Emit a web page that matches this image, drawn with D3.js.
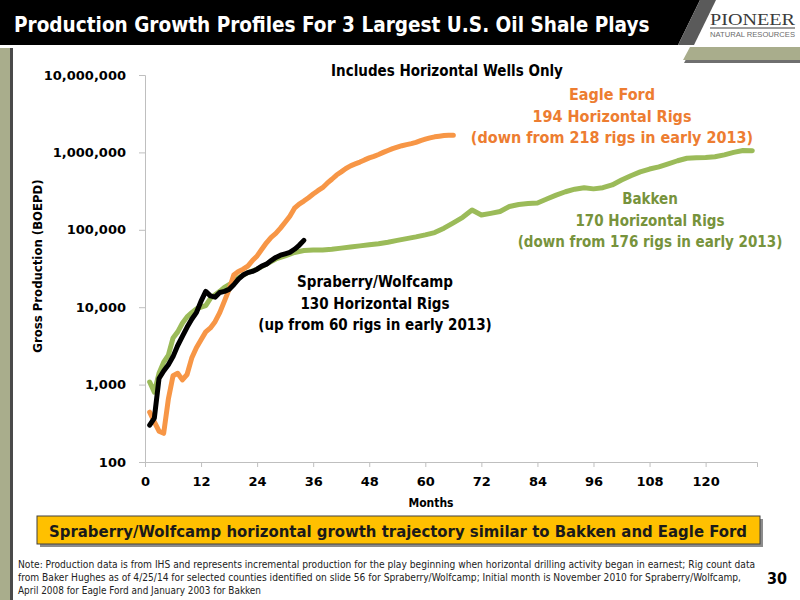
<!DOCTYPE html>
<html>
<head>
<meta charset="utf-8">
<script src="https://cdn.jsdelivr.net/npm/d3@7"></script>
<style>
  body { margin: 0; background: #fff; }
  svg { display: block; }
  .tick text { font-family: "DejaVu Sans", sans-serif; font-weight: bold; font-size: 13px; fill: #000; }
</style>
</head>
<body>
<div id="chart"></div>
<script>
// months and gross production (BOEPD)
var eagleMonths = [1,2,3,4,5,6,7,8,9,10,11,12,13,14,15,16,17,18,19,20,21,22,23,24,25,26,27,28,29,30,31,32,33,34,35,36,37,38,39,40,41,42,43,44,45,46,47,48,49,50,51,52,53,54,55,56,57,58,59,60,61,62,63,64,65,66];
var eagleValues = [440,330,250,235,650,1300,1400,1150,1350,2200,3000,3800,4800,5400,6500,8500,12000,17000,26000,29000,31000,34000,40000,46000,56000,68000,80000,90000,105000,125000,150000,190000,215000,235000,260000,290000,320000,350000,400000,450000,510000,560000,620000,670000,710000,750000,800000,850000,890000,940000,1000000,1060000,1120000,1170000,1220000,1260000,1300000,1350000,1420000,1480000,1540000,1590000,1620000,1650000,1660000,1660000];

var bakkenMonths = [1,2,3,4,5,6,7,8,9,10,11,12,13,14,15,16,17,18,20,22,24,26,28,30,32,34,36,38,40,42,44,46,48,50,52,54,56,58,60,62,64,66,68,70,72,74,76,78,80,82,84,86,88,90,92,94,96,98,100,102,104,106,108,110,112,114,116,118,120,122,124,126,128,130];
var bakkenValues = [1080,800,1400,1950,2400,4000,4800,6200,7500,8500,9500,10000,10500,13000,14500,16000,18000,19500,24000,28000,31000,36000,42000,46000,51000,54000,55000,55000,56000,58000,60000,62000,64000,66000,69000,73000,77000,81000,86000,92000,105000,123000,145000,180000,155000,163000,172000,200000,212000,218000,222000,250000,280000,310000,335000,350000,338000,350000,380000,440000,500000,560000,610000,650000,710000,780000,840000,850000,860000,880000,930000,1000000,1060000,1050000];

var sprabMonths = [1,2,3,4,5,6,7,8,9,10,11,12,13,14,15,16,17,18,19,20,21,22,23,24,25,26,27,28,29,30,31,32,33,34];
var sprabValues = [300,370,1200,1500,1800,2300,3200,4200,5500,7000,8500,12000,16000,14000,13500,15500,16000,17000,19500,23000,26000,28000,29000,31000,34000,36000,40000,44000,47000,49000,51000,56000,63000,73000];

var xTicks = [0,12,24,36,48,60,72,84,96,108,120];
var yTicks = [100,1000,10000,100000,1000000,10000000];

var eagleLabel = ["Eagle Ford", "194 Horizontal Rigs", "(down from 218 rigs in early 2013)"];
var bakkenLabel = ["Bakken", "170 Horizontal Rigs", "(down from 176 rigs in early 2013)"];
var sprabLabel = ["Spraberry/Wolfcamp", "130 Horizontal Rigs", "(up from 60 rigs in early 2013)"];
var noteLines = [
  "Note: Production data is from IHS and represents incremental production for the play beginning when horizontal drilling activity began in earnest; Rig count data",
  "from Baker Hughes as of 4/25/14 for selected counties identified on slide 56 for Spraberry/Wolfcamp; Initial month is November 2010 for Spraberry/Wolfcamp,",
  "April 2008 for Eagle Ford and January 2003 for Bakken"
];

const WIDTH = 800;
const HEIGHT = 600;
const BOLD = '"DejaVu Sans Condensed", "DejaVu Sans", sans-serif';

var zip = function(ms, vs){
  return ms.map(function(m, i){ return [m, vs[i]]; });
};

// shrink or grow a text's font size so that it spans the wanted width
var fitText = function(sel, size, width){
  sel.style('font-size', size + 'px');
  var w = sel.node().getComputedTextLength();
  sel.style('font-size', (size * width / w).toFixed(2) + 'px');
};

var svg = d3.select('#chart').append('svg')
  .attr('width', WIDTH)
  .attr('height', HEIGHT);

// slide frame: title bar, logo, side strip
svg.append('polygon').attr('points', '0,0 700,0 678,45 0,45').attr('fill', '#000');
svg.append('polygon').attr('points', '700,0 716,0 694,45 678,45').attr('fill', '#5a5a5a');
svg.append('polygon').attr('points', '690,48 800,48 800,61 683,61').attr('fill', '#6f6f6f').attr('transform', 'translate(1,2)');
svg.append('polygon').attr('points', '690,47 800,47 800,60 683,60').attr('fill', '#a9ad8c');
svg.append('rect').attr('x', 0).attr('y', 48).attr('width', 10).attr('height', 552).attr('fill', '#a9ad8c');
svg.append('rect').attr('x', 10).attr('y', 48).attr('width', 3).attr('height', 552).attr('fill', '#4a4a4a');

var title = svg.append('text')
  .attr('x', 14).attr('y', 32)
  .style('font-family', BOLD).style('font-weight', 'bold').style('fill', '#fff')
  .text('Production Growth Profiles For 3 Largest U.S. Oil Shale Plays');
fitText(title, 24, 636);

svg.append('text')
  .attr('x', 710).attr('y', 25)
  .attr('textLength', 85).attr('lengthAdjust', 'spacingAndGlyphs')
  .style('font-family', '"Liberation Serif", serif').style('font-size', '16px').style('fill', '#3b3b3b')
  .text('PIONEER');
svg.append('line').attr('x1', 710).attr('x2', 795).attr('y1', 28).attr('y2', 28)
  .attr('stroke', '#3b3b3b').attr('stroke-width', 1);
svg.append('text')
  .attr('x', 710).attr('y', 37)
  .attr('textLength', 85).attr('lengthAdjust', 'spacingAndGlyphs')
  .style('font-family', '"Liberation Sans", sans-serif').style('font-size', '8px').style('fill', '#6b6b6b')
  .text('NATURAL RESOURCES');

// scales and axes
var xScale = d3.scaleLinear().domain([0, 131]).range([145, 757]);
var yScale = d3.scaleLog().domain([100, 10000000]).range([462, 75]);

var xAxis = d3.axisBottom(xScale).tickValues(xTicks).tickSize(5).tickPadding(10).tickFormat(d3.format('d'));
var yAxis = d3.axisLeft(yScale).tickValues(yTicks).tickSize(6).tickPadding(13).tickFormat(d3.format(','));

var gx = svg.append('g').attr('transform', 'translate(0,462)').call(xAxis);
var gy = svg.append('g').attr('transform', 'translate(145,0)').call(yAxis);
[gx, gy].forEach(function(g){
  g.select('.domain').attr('stroke', '#bfbfbf');
  g.selectAll('.tick line').attr('stroke', '#bfbfbf');
});

svg.append('text')
  .attr('transform', 'translate(42,266) rotate(-90)')
  .attr('text-anchor', 'middle')
  .style('font-family', BOLD).style('font-weight', 'bold').style('font-size', '13px')
  .text('Gross Production (BOEPD)');

svg.append('text')
  .attr('x', 431).attr('y', 507)
  .attr('text-anchor', 'middle')
  .style('font-family', BOLD).style('font-weight', 'bold').style('font-size', '12px')
  .text('Months');

// series
var line = d3.line()
  .x(function(d){ return xScale(d[0]); })
  .y(function(d){ return yScale(d[1]); });

var drawSeries = function(data, color){
  svg.append('path')
    .attr('d', line(data))
    .attr('fill', 'none')
    .attr('stroke', color)
    .attr('stroke-width', 5)
    .attr('stroke-linejoin', 'round')
    .attr('stroke-linecap', 'round');
};

drawSeries(zip(bakkenMonths, bakkenValues), '#9bbb59');
drawSeries(zip(eagleMonths, eagleValues), '#f79646');
drawSeries(zip(sprabMonths, sprabValues), '#000');

// annotations
var drawLabel = function(lines, x, y, size, color){
  var t = svg.append('text')
    .attr('text-anchor', 'middle')
    .style('font-family', BOLD).style('font-weight', 'bold')
    .style('font-size', size + 'px').style('fill', color);
  lines.forEach(function(s, i){
    t.append('tspan').attr('x', x).attr('y', y + i * 21.5).text(s);
  });
};

drawLabel(['Includes Horizontal Wells Only'], 447, 76, 15, '#000');
drawLabel(eagleLabel, 612, 100, 16, '#ed7d31');
drawLabel(bakkenLabel, 650, 204, 15, '#77933c');
drawLabel(sprabLabel, 375, 287, 15, '#000');

// call-out box
svg.append('rect').attr('x', 40).attr('y', 519).attr('width', 723).attr('height', 28).attr('fill', '#8c8c8c');
svg.append('rect').attr('x', 37).attr('y', 516).attr('width', 723).attr('height', 28)
  .attr('fill', '#ffc000').attr('stroke', '#404040').attr('stroke-width', 1);
var boxText = svg.append('text')
  .attr('x', 398).attr('y', 537)
  .attr('text-anchor', 'middle')
  .style('font-family', BOLD).style('font-weight', 'bold').style('fill', '#1a1a1a')
  .text('Spraberry/Wolfcamp horizontal growth trajectory similar to Bakken and Eagle Ford');
fitText(boxText, 17, 698);

// footnote and page number
var noteWidths = [738, 724, 243];
noteLines.forEach(function(s, i){
  var t = svg.append('text')
    .attr('x', 18).attr('y', 568 + i * 13)
    .style('font-family', '"DejaVu Sans Condensed", sans-serif').style('fill', '#222')
    .text(s);
  fitText(t, 10, noteWidths[i]);
});

svg.append('text')
  .attr('x', 777).attr('y', 584)
  .attr('text-anchor', 'middle')
  .style('font-family', BOLD).style('font-weight', 'bold').style('font-size', '16px')
  .text('30');
</script>
</body>
</html>
